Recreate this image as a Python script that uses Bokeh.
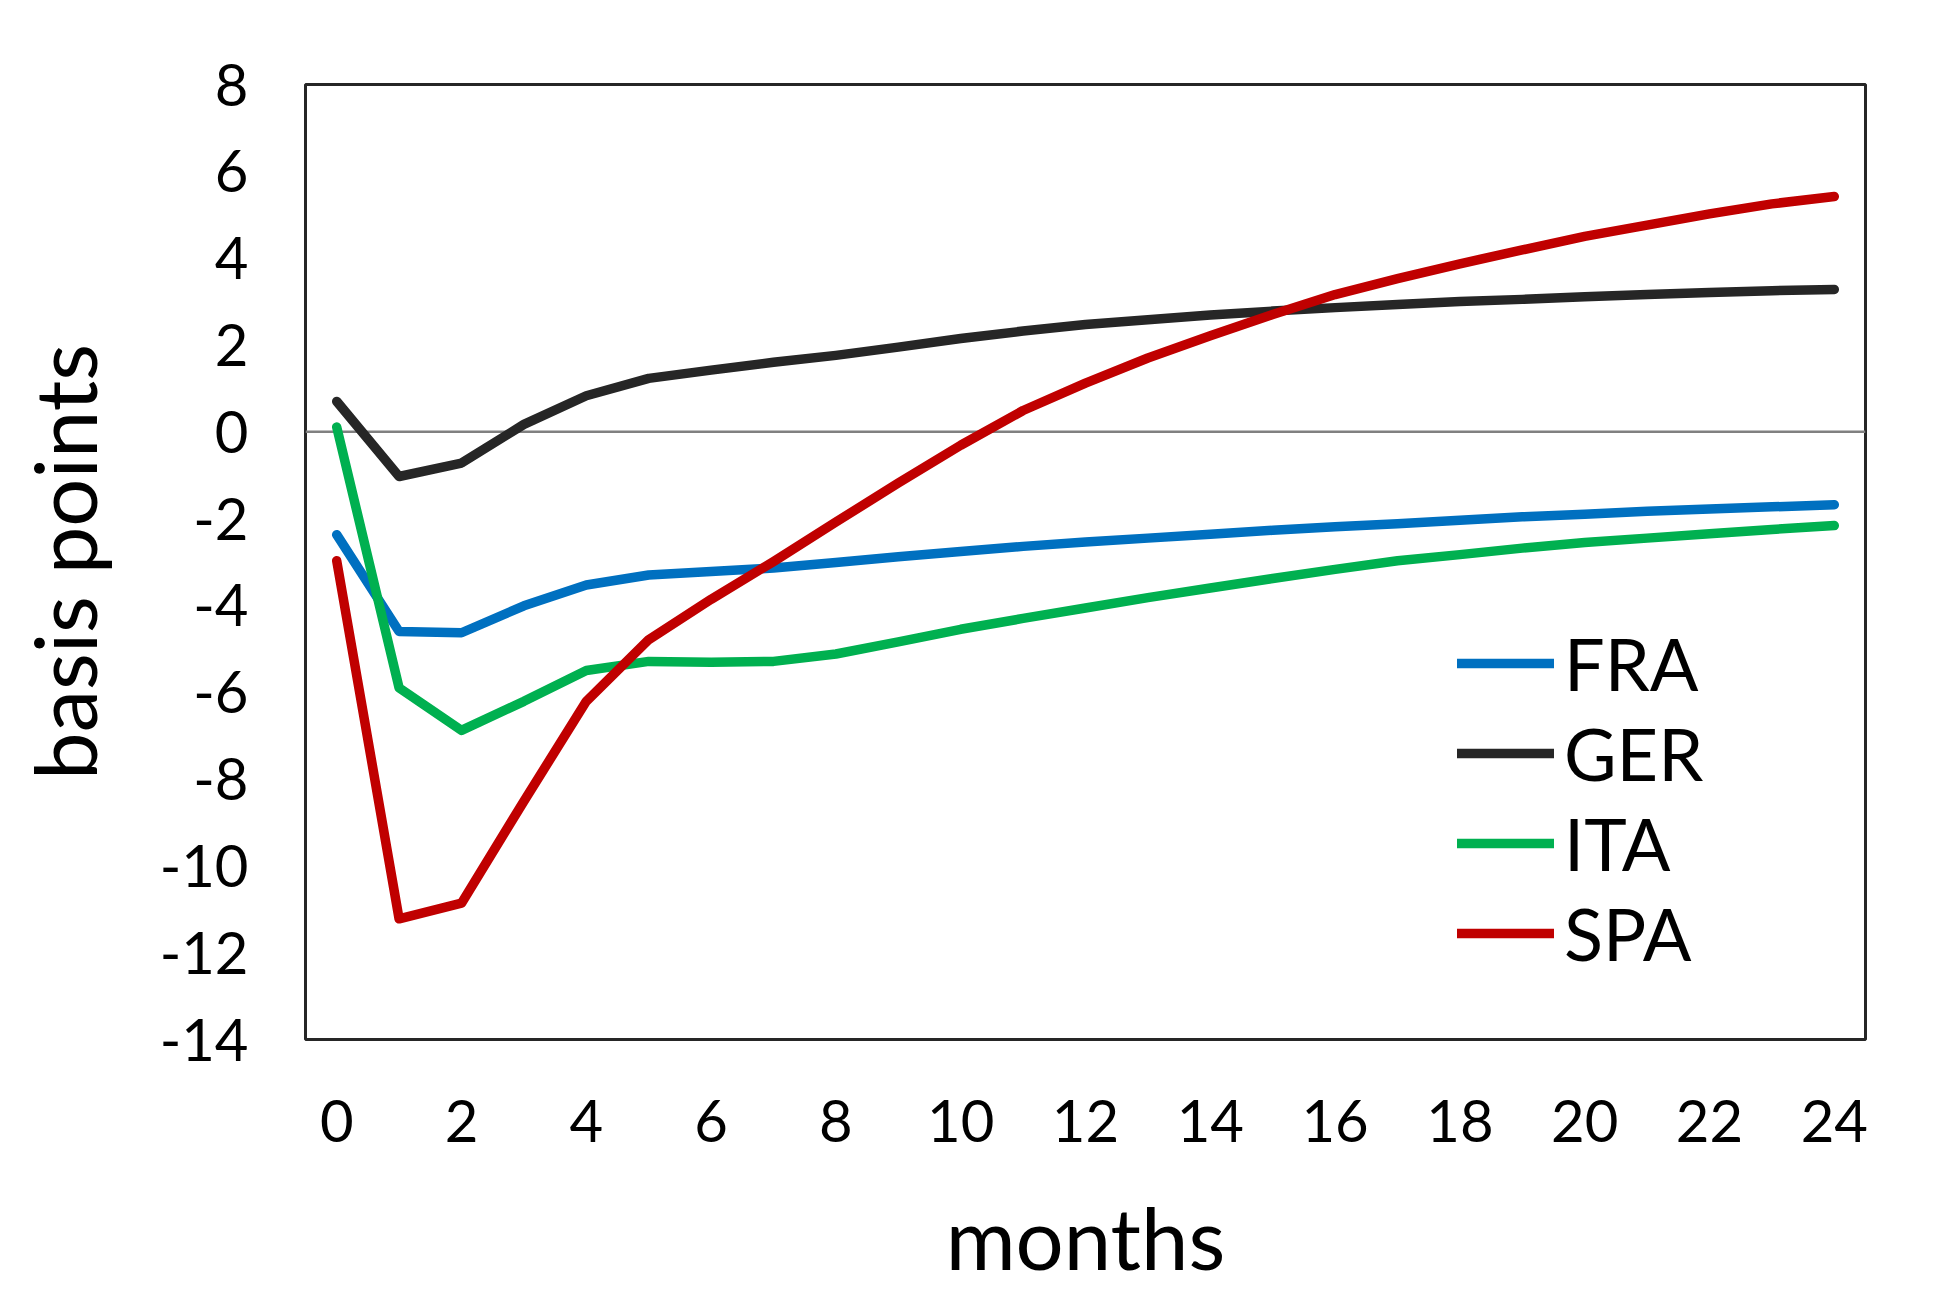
from bokeh.plotting import figure
from bokeh.models import Span, Range1d, FixedTicker, Legend, LegendItem
from bokeh.embed import file_html
from bokeh.resources import INLINE

months = list(range(25))
fra = [-2.37, -4.60, -4.63, -4.01, -3.53, -3.30, -3.22, -3.14, -3.01, -2.88, -2.76, -2.64,
       -2.54, -2.45, -2.36, -2.27, -2.19, -2.12, -2.04, -1.96, -1.90, -1.83, -1.78, -1.73, -1.68]
ger = [0.70, -1.03, -0.72, 0.17, 0.83, 1.23, 1.42, 1.60, 1.76, 1.95, 2.15, 2.32,
       2.47, 2.58, 2.69, 2.78, 2.86, 2.93, 3.00, 3.05, 3.11, 3.16, 3.21, 3.25, 3.28]
ita = [0.11, -5.90, -6.88, -6.21, -5.50, -5.29, -5.31, -5.29, -5.12, -4.84, -4.55, -4.30,
       -4.06, -3.82, -3.60, -3.38, -3.17, -2.97, -2.83, -2.68, -2.55, -2.45, -2.35, -2.25, -2.16]
spa = [-2.97, -11.22, -10.86, -8.51, -6.21, -4.79, -3.86, -2.99, -2.08, -1.18, -0.31, 0.49,
       1.12, 1.70, 2.21, 2.70, 3.16, 3.53, 3.87, 4.19, 4.50, 4.76, 5.02, 5.25, 5.42]

series_names = ["FRA", "GER", "ITA", "SPA"]
series_values = [fra, ger, ita, spa]
series_colors = ["#0070C0", "#262626", "#00B050", "#C00000"]

x_ticks = list(range(0, 25, 2))
y_ticks = list(range(-14, 9, 2))

FONT = "Lato"

p = figure(width=1930, height=1285, frame_width=1560, frame_height=955,
           x_range=Range1d(-0.5, 24.5), y_range=Range1d(-14, 8),
           output_backend="svg", toolbar_location=None,
           min_border_left=305, min_border_right=65, min_border_top=84, min_border_bottom=246,
           background_fill_color="white", border_fill_color="white")

p.xgrid.visible = False
p.ygrid.visible = False
p.outline_line_color = "#262626"
p.outline_line_width = 3

zero = Span(location=0, dimension="width", line_color="#808080", line_width=2.5, level="underlay")
p.add_layout(zero)

items = []
for name, vals, col in zip(series_names, series_values, series_colors):
    r = p.line(months, vals, line_color=col, line_width=9.5, line_cap="round", line_join="round")
    items.append(LegendItem(label=name, renderers=[r]))

legend = Legend(items=items, location=(1152, 61), orientation="vertical",
                padding=0, margin=0, spacing=0, border_line_alpha=0, background_fill_alpha=0,
                glyph_width=97, glyph_height=90, label_height=90, label_standoff=10,
                label_text_font=FONT, label_text_font_size="72px", label_text_color="black")
p.add_layout(legend, "center")

for ax in (p.xaxis[0], p.yaxis[0]):
    ax.axis_line_color = None
    ax.major_tick_line_color = None
    ax.minor_tick_line_color = None
    ax.major_label_text_font = FONT
    ax.major_label_text_font_size = "58px"
    ax.major_label_text_color = "black"
    ax.axis_label_text_font = FONT
    ax.axis_label_text_font_size = "85px"
    ax.axis_label_text_font_style = "normal"
    ax.axis_label_text_color = "black"

p.xaxis.ticker = FixedTicker(ticks=x_ticks)
p.yaxis.ticker = FixedTicker(ticks=y_ticks)
p.xaxis.major_label_overrides = {t: str(t) for t in x_ticks}
p.yaxis.major_label_overrides = {t: str(t) for t in y_ticks}
p.xaxis.axis_label = "months"
p.yaxis.axis_label = "basis points"
p.xaxis.major_label_standoff = 54
p.yaxis.major_label_standoff = 51
p.xaxis.axis_label_standoff = 41
p.yaxis.axis_label_standoff = 42

open("out.html", "w").write(file_html(p, INLINE))
